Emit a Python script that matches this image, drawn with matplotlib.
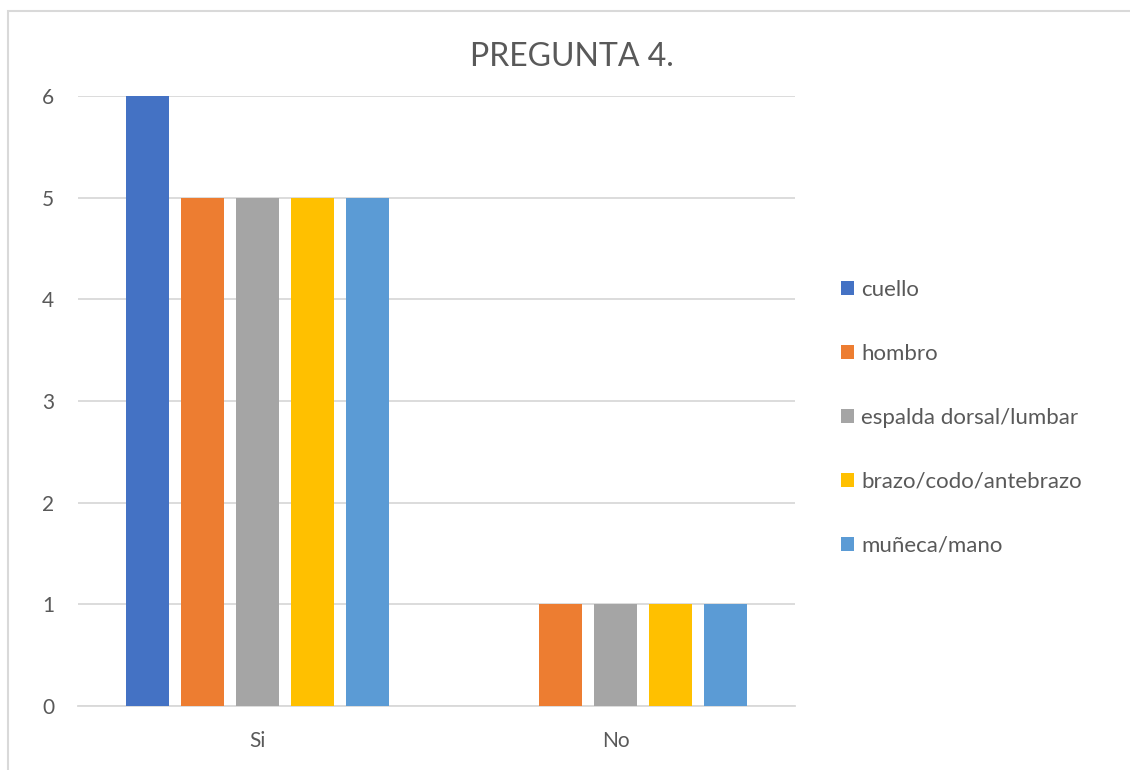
import matplotlib
matplotlib.use("Agg")
import matplotlib.pyplot as plt
from matplotlib.patches import Rectangle
import numpy as np

categories = ["Si", "No"]
series_names = ["cuello", "hombro", "espalda dorsal/lumbar",
                "brazo/codo/antebrazo", "muñeca/mano"]
cuello = [6, 0]
hombro = [5, 1]
espalda = [5, 1]
brazo = [5, 1]
muneca = [5, 1]
series_values = [cuello, hombro, espalda, brazo, muneca]
colors = ["#4472C4", "#ED7D31", "#A5A5A5", "#FFC000", "#5B9BD5"]
y_ticks = [0, 1, 2, 3, 4, 5, 6]

plt.rcParams['font.family'] = ['Lato', 'DejaVu Sans']

fig = plt.figure(figsize=(11.3, 7.7), dpi=100)
ax = fig.add_axes([78 / 1130, 64 / 770, 717 / 1130, 610 / 770])

x = np.arange(len(categories))
step = 0.1534
width = 0.121
for i, (name, vals, c) in enumerate(zip(series_names, series_values, colors)):
    ax.bar(x + (i - 2) * step, vals, width=width, color=c, label=name, zorder=3)

ax.set_xlim(-0.5, 1.5)
ax.set_ylim(0, 6)
ax.set_yticks(y_ticks)
ax.set_xticks(x)
ax.set_xticklabels(categories)
ax.yaxis.grid(True, color="#D9D9D9", linewidth=1.3, zorder=0)
for s in ["top", "right", "left"]:
    ax.spines[s].set_visible(False)
ax.spines["bottom"].set_color("#D9D9D9")
ax.spines["bottom"].set_linewidth(1.3)
ax.tick_params(axis="both", length=0, colors="#595959", labelsize=15)
ax.tick_params(axis="y", pad=17)
ax.tick_params(axis="x", pad=18)

fig.text(572 / 1130, 1 - 57 / 770, "PREGUNTA 4.", ha="center", va="center",
         fontsize=23, color="#595959")

fig.legend(loc="center left", bbox_to_anchor=(841 / 1130, 1 - 417.5 / 770),
           frameon=False, fontsize=16, labelspacing=1.98, handlelength=0.6,
           handleheight=0.6, handletextpad=0.3, borderpad=0, borderaxespad=0,
           labelcolor="#595959")

# Chart area border
fig.patches.append(Rectangle((8 / 1130, -0.1), 1.2, 0.1 + (770 - 11) / 770,
                             transform=fig.transFigure, fill=False,
                             edgecolor="#D9D9D9", linewidth=1.5))

fig.savefig("out.png", dpi=100, facecolor="white")
